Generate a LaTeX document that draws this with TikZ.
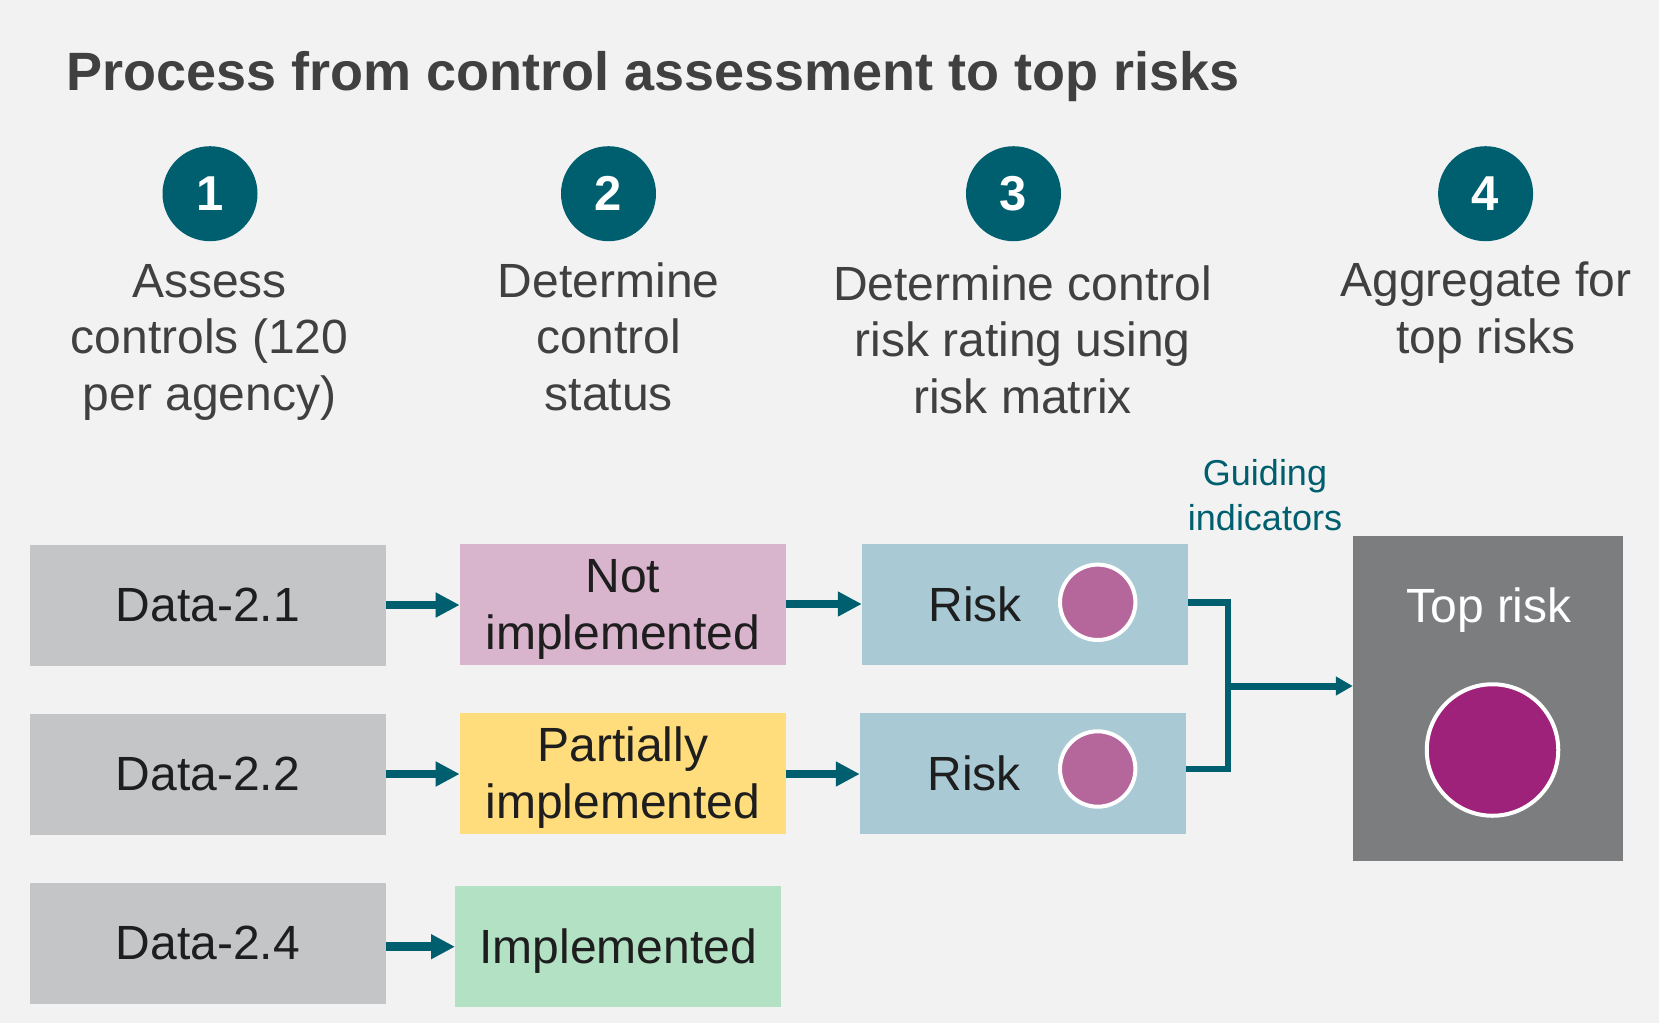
\documentclass[tikz,border=0pt]{standalone}
\usepackage{fontspec}
\setmainfont{Liberation Sans}
\usetikzlibrary{arrows.meta}
\definecolor{hintergrund}{HTML}{F2F2F2}
\definecolor{petrol}{HTML}{005F6E}
\definecolor{textgrau}{HTML}{404040}
\definecolor{schrift}{HTML}{1E1E1E}
\definecolor{datengrau}{HTML}{C4C5C7}
\definecolor{rosa}{HTML}{D9B4CD}
\definecolor{sonnengelb}{HTML}{FFDC7C}
\definecolor{mintgruen}{HTML}{B3E1C4}
\definecolor{eisblau}{HTML}{A9CAD5}
\definecolor{dunkelgrau}{HTML}{7C7D7F}
\definecolor{beere}{HTML}{B5679B}
\definecolor{purpur}{HTML}{9E217A}

% Stuetze fuer die erste Zeile, damit zweizeiliger Text etwas tiefer sitzt
\newcommand{\oberzeile}{\rule{0pt}{43bp}}

\tikzset{
  kasten/.style={rectangle,inner sep=0pt,align=center,text=schrift,
    font=\fontsize{48bp}{56.7bp}\selectfont},
  datenkasten/.style={kasten,fill=datengrau,minimum width=356bp,minimum height=121bp},
  statuskasten/.style={kasten,minimum width=326bp,minimum height=121bp},
  risikokasten/.style={kasten,fill=eisblau,minimum width=326bp,minimum height=121bp},
  nummer/.style={circle,fill=petrol,text=white,inner sep=0pt,minimum size=95bp,
    font=\fontsize{49bp}{49bp}\selectfont\bfseries},
  schritt/.style={anchor=base,align=center,text=textgrau,inner sep=0pt,
    font=\fontsize{48bp}{56.7bp}\selectfont},
  punkt/.style={circle,draw=white,line width=4bp,inner sep=0pt},
  pfeil/.style={line width=8.5bp,petrol,-{Triangle[length=24bp,width=23.5bp]}},
}

\begin{document}
\begin{tikzpicture}[yscale=-1,x=1bp,y=1bp]

  % --- Hintergrund und Rahmen der Seite ---
  \fill[hintergrund] (0,0) rectangle (1659,1023);
  \useasboundingbox (0,0) rectangle (1659,1023);

  % --- Titel ---
  \node[anchor=base west,inner sep=0pt,text=textgrau,font=\fontsize{54bp}{60bp}\selectfont\bfseries]
    (titel) at (66,90) {Process from control assessment to top risks};

  % ======================================================================
  % Vier Schritte: Nummernkreis + Beschreibung
  % (anchor=base sitzt bei mehrzeiligen Knoten auf der letzten Zeile)
  % ======================================================================
  \node[nummer] (n1) at (210,193.7) {1};
  \node[nummer] (n2) at (608.5,193.7) {2};
  \node[nummer] (n3) at (1013.5,193.7) {3};
  \node[nummer] (n4) at (1485.6,193.7) {4};

  \node[schritt] (s1) at (209.5,410.4) {Assess\\controls (120\\per agency)};
  \node[schritt] (s2) at (608.7,410.4) {Determine\\control\\status};
  \node[schritt] (s3) at (1022.5,413.4) {Determine control\\risk rating using\\risk matrix};
  \node[schritt] (s4) at (1485.8,353.4) {Aggregate for\\top risks};

  % ======================================================================
  % Kaesten: Daten -> Status -> Risiko
  % ======================================================================
  \node[datenkasten] (d1) at (207.9,605.3) {Data-2.1};
  \node[datenkasten] (d2) at (207.9,774.3) {Data-2.2};
  \node[datenkasten] (d3) at (207.9,943.3) {Data-2.4};

  \node[statuskasten,fill=rosa] (st1) at (622.9,604.5) {\oberzeile Not\\implemented};
  \node[statuskasten,fill=sonnengelb] (st2) at (622.9,773.4) {\oberzeile Partially\\implemented};
  \node[statuskasten,fill=mintgruen,text depth=0bp] (st3) at (618.2,946.4) {Implemented};

  \node[risikokasten] (r1) at (1025,604.5) {};
  \node[risikokasten] (r2) at (1023,773.4) {};
  \node[kasten] (rt1) at (975,604) {Risk};
  \node[kasten] (rt2) at (974,773) {Risk};
  \node[punkt,fill=beere,minimum size=75.4bp] (p1) at (1097.7,602.3) {};
  \node[punkt,fill=beere,minimum size=75.4bp] (p2) at (1097.7,769) {};

  % --- Sammelkasten rechts ---
  \node[rectangle,fill=dunkelgrau,minimum width=270bp,minimum height=325bp,inner sep=0pt]
    (top) at (1488,698.5) {};
  \node[anchor=base,text=white,inner sep=0pt,font=\fontsize{48bp}{48bp}\selectfont]
    (toptext) at (1489,622) {Top risk};
  \node[punkt,fill=purpur,minimum size=131.5bp] (ptop) at (1492.5,750) {};

  \node[anchor=base,align=center,inner sep=0pt,text=petrol,font=\fontsize{36bp}{45bp}\selectfont]
    (hinweis) at (1265,530.5) {Guiding\\indicators};

  % ======================================================================
  % Pfeile zwischen den Kaesten
  % ======================================================================
  \draw[pfeil] (d1.east |- 0,605) -- (st1.west |- 0,605);
  \draw[pfeil] (d2.east |- 0,774) -- (st2.west |- 0,774);
  \draw[pfeil] (d3.east |- 0,946.7) -- (st3.west |- 0,946.7);
  \draw[pfeil] (st1.east |- 0,604) -- (r1.west |- 0,604);
  \draw[pfeil] (st2.east |- 0,774) -- (r2.west |- 0,774);

  % Klammer von beiden Risiken zum Top risk
  \coordinate (gabel) at (1228,686);
  \draw[line width=6.5bp,petrol] (r1.east |- p1) -| (gabel) |- (r2.east |- p2);
  \draw[line width=7bp,petrol,-{Triangle[length=17bp,width=18bp]}]
    (gabel) -- (top.west |- gabel);

\end{tikzpicture}
\end{document}
